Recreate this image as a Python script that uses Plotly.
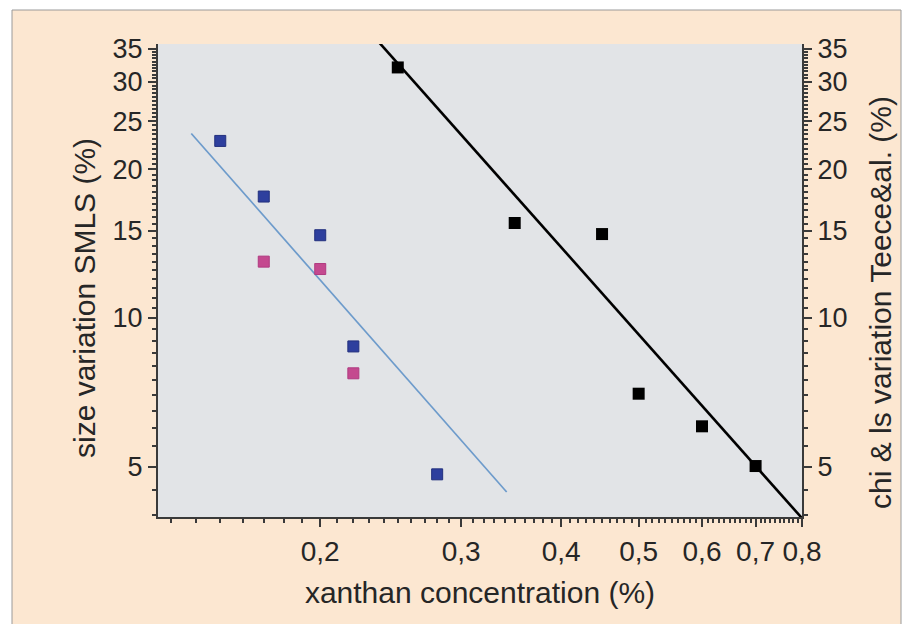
import numpy as np
import plotly.graph_objects as go

# ---- data ----
blue_x = [0.15, 0.17, 0.20, 0.22, 0.28]
blue_y = [22.8, 17.6, 14.7, 8.76, 4.83]

pink_x = [0.17, 0.20, 0.22]
pink_y = [13.0, 12.56, 7.73]

black_x = [0.25, 0.35, 0.45, 0.50, 0.60, 0.70]
black_y = [32.1, 15.56, 14.78, 7.03, 6.04, 5.02]

# fitted lines (end points)
blue_fit_x = [0.138, 0.342]
blue_fit_y = [23.6, 4.45]
black_fit_x = [0.2336, 0.81]
black_fit_y = [37.0, 3.85]

x_tickvals = [0.2, 0.3, 0.4, 0.5, 0.6, 0.7, 0.8]
x_ticktext = ["0,2", "0,3", "0,4", "0,5", "0,6", "0,7", "0,8"]
y_tickvals = [5, 10, 15, 20, 25, 30, 35]
y_ticktext = ["5", "10", "15", "20", "25", "30", "35"]

x_minor = [round(v, 2) for v in np.arange(0.13, 0.80, 0.01) if round(v, 2) not in x_tickvals]
y_minor = [round(v, 1) for v in np.arange(4.0, 35.01, 0.5) if round(v, 1) not in y_tickvals]

x_range = [np.log10(0.1254), np.log10(0.80)]
y_range = [np.log10(3.96), np.log10(35.8)]

x_title = "xanthan concentration (%)"
y_title = "size variation SMLS (%)"
y2_title = "chi & ls variation Teece&al. (%)"

# ---- layout geometry (pixels) ----
W, H = 910, 624
L, R, T, B = 158, 802, 44, 517
pw, ph = R - L, B - T


def px_x(p):
    return (p - L) / pw


def px_y(p):
    return (B - p) / ph


FONT = "Liberation Sans, Arial, sans-serif"
AXC = "#3a3a3a"
TXT = "#262626"

fig = go.Figure()

fig.add_trace(go.Scatter(x=blue_fit_x, y=blue_fit_y, mode="lines",
                         line=dict(color="#6d9bcb", width=1.7), showlegend=False))
fig.add_trace(go.Scatter(x=black_fit_x, y=black_fit_y, mode="lines", yaxis="y2",
                         line=dict(color="#000000", width=2.6), showlegend=False))
fig.add_trace(go.Scatter(x=blue_x, y=blue_y, mode="markers",
                         marker=dict(symbol="square", size=11, color="#2e3f9e",
                                     line=dict(color="#23307e", width=1)),
                         showlegend=False))
fig.add_trace(go.Scatter(x=pink_x, y=pink_y, mode="markers",
                         marker=dict(symbol="square", size=11, color="#c4498f",
                                     line=dict(color="#b03a80", width=1)),
                         showlegend=False))
fig.add_trace(go.Scatter(x=black_x, y=black_y, mode="markers", yaxis="y2",
                         marker=dict(symbol="square", size=12, color="#000000"),
                         showlegend=False))

common_y = dict(type="log", range=y_range, tickmode="array", tickvals=y_tickvals,
                ticktext=y_ticktext, ticks="outside", ticklen=8, tickwidth=1.5,
                tickcolor=AXC, showline=True, linecolor=AXC, linewidth=2,
                showgrid=False, zeroline=False,
                tickfont=dict(family=FONT, size=27, color=TXT),
                minor=dict(tickmode="array", tickvals=y_minor, ticks="outside",
                           ticklen=4, tickwidth=1.5, tickcolor=AXC, showgrid=False))

fig.update_layout(
    width=W, height=H,
    margin=dict(l=L, r=W - R, t=T, b=H - B),
    paper_bgcolor="#ffffff",
    plot_bgcolor="rgba(0,0,0,0)",
    showlegend=False,
    xaxis=dict(type="log", range=x_range, tickmode="array", tickvals=x_tickvals,
               ticktext=x_ticktext, ticks="outside", ticklen=8, tickwidth=1.5,
               tickcolor=AXC, showline=True, linecolor=AXC, linewidth=2,
               showgrid=False, zeroline=False,
               tickfont=dict(family=FONT, size=28, color=TXT),
               title=dict(text=x_title, standoff=16,
                          font=dict(family=FONT, size=30, color=TXT)),
               minor=dict(tickmode="array", tickvals=x_minor, ticks="outside",
                          ticklen=4, tickwidth=1.5, tickcolor=AXC, showgrid=False)),
    yaxis=dict(**common_y),
    yaxis2=dict(**common_y, overlaying="y", side="right"),
    annotations=[
        dict(text=y_title, xref="paper", yref="paper", x=px_x(84), y=px_y(298),
             xanchor="center", yanchor="middle", textangle=-90, showarrow=False,
             font=dict(family=FONT, size=30, color=TXT)),
        dict(text=y2_title, xref="paper", yref="paper", x=px_x(880), y=px_y(303),
             xanchor="center", yanchor="middle", textangle=-90, showarrow=False,
             font=dict(family=FONT, size=30, color=TXT)),
    ],
    shapes=[
        dict(type="rect", xref="paper", yref="paper", layer="below",
             x0=px_x(12), x1=px_x(901), y0=px_y(640), y1=px_y(10),
             fillcolor="#fce7d1", line=dict(color="#9a9a9a", width=1)),
        dict(type="rect", xref="paper", yref="paper", layer="below",
             x0=0, x1=1, y0=0, y1=1, fillcolor="#e2e4e7", line=dict(width=0)),
    ],
)

fig.write_html("out.html")
